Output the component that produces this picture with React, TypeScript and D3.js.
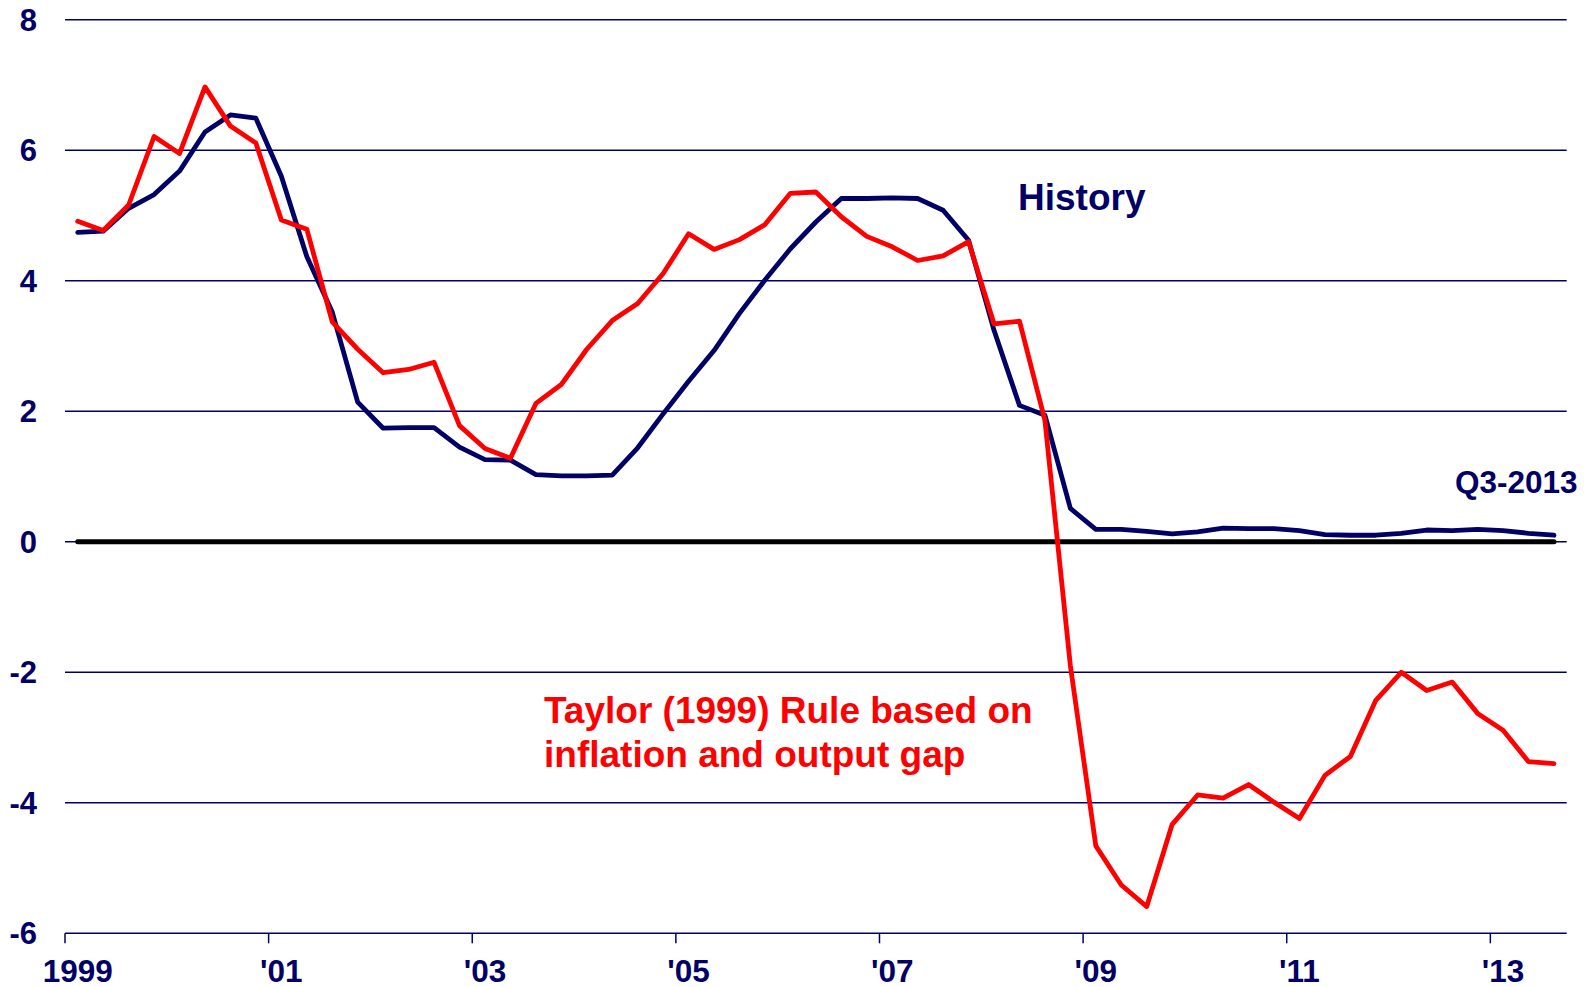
import React from "react";
import * as d3 from "d3";

const quarters: string[] = [
  "1999Q1","1999Q2","1999Q3","1999Q4","2000Q1","2000Q2","2000Q3","2000Q4",
  "2001Q1","2001Q2","2001Q3","2001Q4","2002Q1","2002Q2","2002Q3","2002Q4",
  "2003Q1","2003Q2","2003Q3","2003Q4","2004Q1","2004Q2","2004Q3","2004Q4",
  "2005Q1","2005Q2","2005Q3","2005Q4","2006Q1","2006Q2","2006Q3","2006Q4",
  "2007Q1","2007Q2","2007Q3","2007Q4","2008Q1","2008Q2","2008Q3","2008Q4",
  "2009Q1","2009Q2","2009Q3","2009Q4","2010Q1","2010Q2","2010Q3","2010Q4",
  "2011Q1","2011Q2","2011Q3","2011Q4","2012Q1","2012Q2","2012Q3","2012Q4",
  "2013Q1","2013Q2","2013Q3",
];

const history: number[] = [
  4.74, 4.76, 5.11, 5.32, 5.68, 6.28, 6.54, 6.49,
  5.60, 4.37, 3.52, 2.14, 1.74, 1.75, 1.75, 1.45,
  1.26, 1.25, 1.03, 1.01, 1.01, 1.02, 1.44, 1.96,
  2.46, 2.93, 3.50, 4.01, 4.49, 4.90, 5.26, 5.26,
  5.27, 5.26, 5.08, 4.62, 3.24, 2.09, 1.94, 0.51,
  0.19, 0.19, 0.16, 0.12, 0.15, 0.21, 0.20, 0.20,
  0.17, 0.11, 0.10, 0.10, 0.13, 0.18, 0.17, 0.19,
  0.17, 0.13, 0.10,
];

const taylor: number[] = [
  4.91, 4.77, 5.16, 6.21, 5.95, 6.97, 6.37, 6.11,
  4.93, 4.79, 3.37, 2.95, 2.59, 2.64, 2.75, 1.78,
  1.43, 1.28, 2.12, 2.41, 2.95, 3.39, 3.65, 4.11,
  4.72, 4.48, 4.63, 4.86, 5.34, 5.36, 4.98, 4.68,
  4.52, 4.31, 4.38, 4.60, 3.34, 3.38, 1.86, -1.9,
  -4.66, -5.26, -5.59, -4.33, -3.88, -3.93, -3.72, -3.99,
  -4.24, -3.58, -3.29, -2.43, -2.00, -2.28, -2.15, -2.63,
  -2.89, -3.37, -3.40,
];

const yTicks: number[] = [-6, -4, -2, 0, 2, 4, 6, 8];
const xTickYears: number[] = [1999, 2001, 2003, 2005, 2007, 2009, 2011, 2013];
const xTickLabels: string[] = ["1999", "'01", "'03", "'05", "'07", "'09", "'11", "'13"];

const NAVY = "#000066";
const RED = "#ff0000";
const FONT = "'Liberation Sans', Arial, sans-serif";

function qTime(q: string): number {
  const yr = +q.slice(0, 4);
  const qn = +q.slice(5);
  return yr + (qn - 0.5) / 4;
}

export default function App() {
  const x = d3.scaleLinear().domain([1999, 2013.75]).range([65, 1566.7]);
  const y = d3.scaleLinear().domain([-6, 8]).range([933.3, 19.7]);

  const histData = quarters.map((q, i) => ({ t: qTime(q), v: history[i] }));
  const taylorData = quarters.map((q, i) => ({ t: qTime(q), v: taylor[i] }));

  const line = d3
    .line<{ t: number; v: number }>()
    .x((d) => x(d.t))
    .y((d) => y(d.v));

  const t0 = qTime(quarters[0]);
  const t1 = qTime(quarters[quarters.length - 1]);
  const [xMin, xMax] = x.range();

  return (
    <div style={{ position: "absolute", left: 0, top: 0 }}>
      <svg width={1595} height={987} style={{ display: "block", background: "#fff" }}>
        {yTicks.map((v) => (
          <line key={"g" + v} x1={xMin} x2={xMax} y1={y(v)} y2={y(v)} stroke={NAVY} strokeWidth={1.5} />
        ))}
        {yTicks.map((v) => (
          <text
            key={"yl" + v}
            x={37}
            y={y(v) + 11}
            textAnchor="end"
            fontFamily={FONT}
            fontWeight="bold"
            fontSize={31}
            fill={NAVY}
          >
            {v}
          </text>
        ))}
        {xTickYears.map((yr) => (
          <line key={"t" + yr} x1={x(yr)} x2={x(yr)} y1={y(-6)} y2={y(-6) + 10} stroke={NAVY} strokeWidth={1.5} />
        ))}
        {xTickYears.map((yr, i) => (
          <text
            key={"xl" + yr}
            x={x(yr + 0.125)}
            y={981.5}
            textAnchor="middle"
            fontFamily={FONT}
            fontWeight="bold"
            fontSize={31.5}
            fill={NAVY}
          >
            {xTickLabels[i]}
          </text>
        ))}
        <line x1={x(t0)} x2={x(t1)} y1={y(0)} y2={y(0)} stroke="#000" strokeWidth={5} strokeLinecap="round" />
        <path d={line(histData) || ""} fill="none" stroke={NAVY} strokeWidth={4.8} strokeLinejoin="round" strokeLinecap="round" />
        <path d={line(taylorData) || ""} fill="none" stroke={RED} strokeWidth={4.8} strokeLinejoin="round" strokeLinecap="round" />
        <text x={1018} y={210} fontFamily={FONT} fontWeight="bold" fontSize={37} fill={NAVY}>
          History
        </text>
        <text x={1455} y={493} fontFamily={FONT} fontWeight="bold" fontSize={31.5} fill={NAVY}>
          Q3-2013
        </text>
        <text x={544} y={722.7} fontFamily={FONT} fontWeight="bold" fontSize={37} fill={RED}>
          Taylor (1999) Rule based on
        </text>
        <text x={544} y={766.7} fontFamily={FONT} fontWeight="bold" fontSize={37} fill={RED}>
          inflation and output gap
        </text>
      </svg>
    </div>
  );
}
